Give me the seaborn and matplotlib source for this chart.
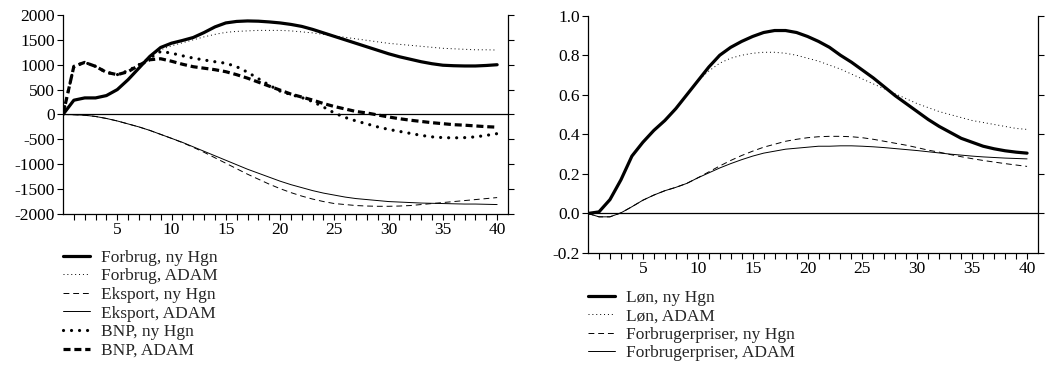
# Impulse responses: ny Hgn vs ADAM
import numpy as np
import seaborn as sns
import matplotlib.pyplot as plt

# Periods (quarters after shock)
periods = np.arange(0, 41)

# Left panel: forbrug, eksport, BNP
forbrug_hgn = [0, 287, 333, 333, 380, 500, 700, 933, 1167, 1347, 1433, 1487, 1547, 1647, 1760, 1840,
               1870, 1880, 1875, 1860, 1840, 1810, 1770, 1710, 1640, 1570, 1500, 1430, 1360, 1290,
               1220, 1160, 1110, 1060, 1020, 990, 980, 975, 975, 985, 1000]
forbrug_adam = [0, 287, 333, 333, 380, 500, 700, 933, 1167, 1300, 1380, 1440, 1500, 1560, 1610, 1650,
                1670, 1680, 1690, 1690, 1690, 1680, 1660, 1640, 1610, 1580, 1550, 1520, 1490, 1460,
                1430, 1410, 1390, 1370, 1350, 1330, 1320, 1310, 1300, 1300, 1295]
eksport_hgn = [0, -5, -15, -40, -80, -130, -190, -250, -320, -400, -480, -565, -660, -760, -870, -980,
               -1090, -1200, -1300, -1400, -1490, -1570, -1640, -1700, -1750, -1790, -1810, -1830,
               -1840, -1845, -1845, -1840, -1830, -1810, -1790, -1770, -1750, -1730, -1710, -1690, -1670]
eksport_adam = [0, -5, -15, -40, -80, -130, -190, -250, -320, -400, -480, -560, -650, -740, -830, -920,
                -1010, -1100, -1180, -1260, -1340, -1410, -1470, -1530, -1580, -1620, -1660, -1690,
                -1710, -1730, -1750, -1760, -1770, -1780, -1785, -1790, -1795, -1800, -1800, -1805, -1810]
bnp_hgn = [0, 967, 1047, 967, 847, 800, 880, 1000, 1133, 1267, 1233, 1180, 1133, 1095, 1060, 1030,
           960, 850, 720, 590, 470, 400, 340, 260, 150, 30, -60, -130, -190, -250, -300, -340, -380,
           -420, -450, -465, -470, -465, -450, -420, -385]
bnp_adam = [0, 967, 1047, 967, 847, 800, 860, 990, 1100, 1120, 1070, 1010, 960, 930, 900, 860,
            800, 730, 650, 570, 490, 410, 350, 290, 220, 160, 110, 60, 30, -10, -50, -85, -115,
            -140, -165, -185, -205, -215, -230, -245, -255]

# Right panel: løn, forbrugerpriser
loen_hgn = [0, 0.008, 0.07, 0.17, 0.29, 0.36, 0.42, 0.47, 0.53, 0.60, 0.67, 0.74, 0.80, 0.84, 0.87,
            0.895, 0.915, 0.925, 0.925, 0.915, 0.895, 0.87, 0.84, 0.80, 0.765, 0.725, 0.685, 0.64,
            0.595, 0.555, 0.515, 0.475, 0.44, 0.41, 0.38, 0.36, 0.34, 0.327, 0.317, 0.31, 0.305]
loen_adam = [0, 0.008, 0.07, 0.17, 0.29, 0.36, 0.42, 0.47, 0.53, 0.60, 0.67, 0.72, 0.76, 0.785, 0.80,
             0.81, 0.815, 0.815, 0.81, 0.80, 0.785, 0.77, 0.75, 0.73, 0.705, 0.68, 0.655, 0.63, 0.605,
             0.58, 0.555, 0.535, 0.515, 0.50, 0.485, 0.47, 0.46, 0.45, 0.44, 0.43, 0.425]
priser_hgn = [0, -0.017, -0.017, 0.003, 0.034, 0.067, 0.093, 0.115, 0.132, 0.152, 0.18, 0.21, 0.24,
              0.268, 0.293, 0.315, 0.335, 0.35, 0.365, 0.375, 0.383, 0.388, 0.39, 0.39, 0.388, 0.383,
              0.375, 0.365, 0.355, 0.345, 0.333, 0.32, 0.31, 0.298, 0.287, 0.277, 0.268, 0.26, 0.252,
              0.245, 0.238]
priser_adam = [0, -0.017, -0.017, 0.003, 0.034, 0.067, 0.093, 0.115, 0.132, 0.152, 0.18, 0.205, 0.23,
               0.252, 0.272, 0.29, 0.305, 0.315, 0.325, 0.33, 0.335, 0.34, 0.34, 0.342, 0.342, 0.34,
               0.337, 0.333, 0.328, 0.323, 0.318, 0.312, 0.306, 0.30, 0.295, 0.29, 0.286, 0.283, 0.28,
               0.278, 0.276]

sns.set_style("ticks")
plt.rcParams['font.family'] = ['Liberation Serif', 'DejaVu Serif']
plt.rcParams['axes.unicode_minus'] = False

thick_solid = dict(lw=2.3, linestyle='-')
thin_dot = dict(lw=0.7, linestyle=(0, (1, 3)))
thin_dash = dict(lw=0.7, linestyle=(0, (6, 4)))
thin_solid = dict(lw=0.7, linestyle='-')
thick_dot = dict(lw=2.3, linestyle=(0, (0.01, 2.5)), dash_capstyle='round')
thick_dash = dict(lw=2.3, linestyle=(0, (2.2, 1.2)))

fig = plt.figure(figsize=(10.5, 3.65), dpi=100)
ax1 = fig.add_axes([0.06, 0.4137, 0.4238, 0.5453])
ax2 = fig.add_axes([0.56, 0.3068, 0.4286, 0.6502])

left_series = [
    (forbrug_hgn, 'Forbrug, ny Hgn', thick_solid),
    (forbrug_adam, 'Forbrug, ADAM', thin_dot),
    (eksport_hgn, 'Eksport, ny Hgn', thin_dash),
    (eksport_adam, 'Eksport, ADAM', thin_solid),
    (bnp_hgn, 'BNP, ny Hgn', thick_dot),
    (bnp_adam, 'BNP, ADAM', thick_dash),
]
right_series = [
    (loen_hgn, 'Løn, ny Hgn', thick_solid),
    (loen_adam, 'Løn, ADAM', thin_dot),
    (priser_hgn, 'Forbrugerpriser, ny Hgn', thin_dash),
    (priser_adam, 'Forbrugerpriser, ADAM', thin_solid),
]

for ax, series in [(ax1, left_series), (ax2, right_series)]:
    for vals, name, st in series:
        sns.lineplot(x=periods, y=vals, ax=ax, color='black', label=name, **st)
    ax.axhline(0, color='black', lw=0.9, zorder=0)
    ax.set_xlim(0, 41)
    ax.set_xticks(range(1, 41))
    ax.set_xticklabels([str(i) if i % 5 == 0 else '' for i in range(1, 41)])
    ax.spines['top'].set_visible(False)
    ax.spines['right'].set_visible(True)
    for s in ['left', 'right', 'bottom']:
        ax.spines[s].set_linewidth(0.9)
        ax.spines[s].set_color('black')
    ax.tick_params(direction='out', length=4, width=0.8, colors='black', labelsize=12.5, pad=2)
    ax.tick_params(axis='y', right=True, labelright=False)
    ax.set_xlabel('')
    ax.set_ylabel('')
    handles, labels = ax.get_legend_handles_labels()
    ax.get_legend().remove()
    ax.grid(False)
    if ax is ax1:
        pos = (0.06, 0.316)
    else:
        pos = (0.56, 0.207)
    fig.legend(handles, labels, loc='upper left', bbox_to_anchor=pos, frameon=False,
               handlelength=1.55, handletextpad=0.65, labelspacing=0.14, borderpad=0,
               borderaxespad=0, fontsize=12.5)

ax1.set_ylim(-2000, 2000)
ax1.set_yticks(np.arange(-2000, 2001, 500))
ax2.set_ylim(-0.2, 1.0)
ax2.set_yticks(np.arange(-0.2, 1.01, 0.2))
ax2.set_yticklabels(['-0.2', '0.0', '0.2', '0.4', '0.6', '0.8', '1.0'])

fig.savefig('out.png', dpi=100)
